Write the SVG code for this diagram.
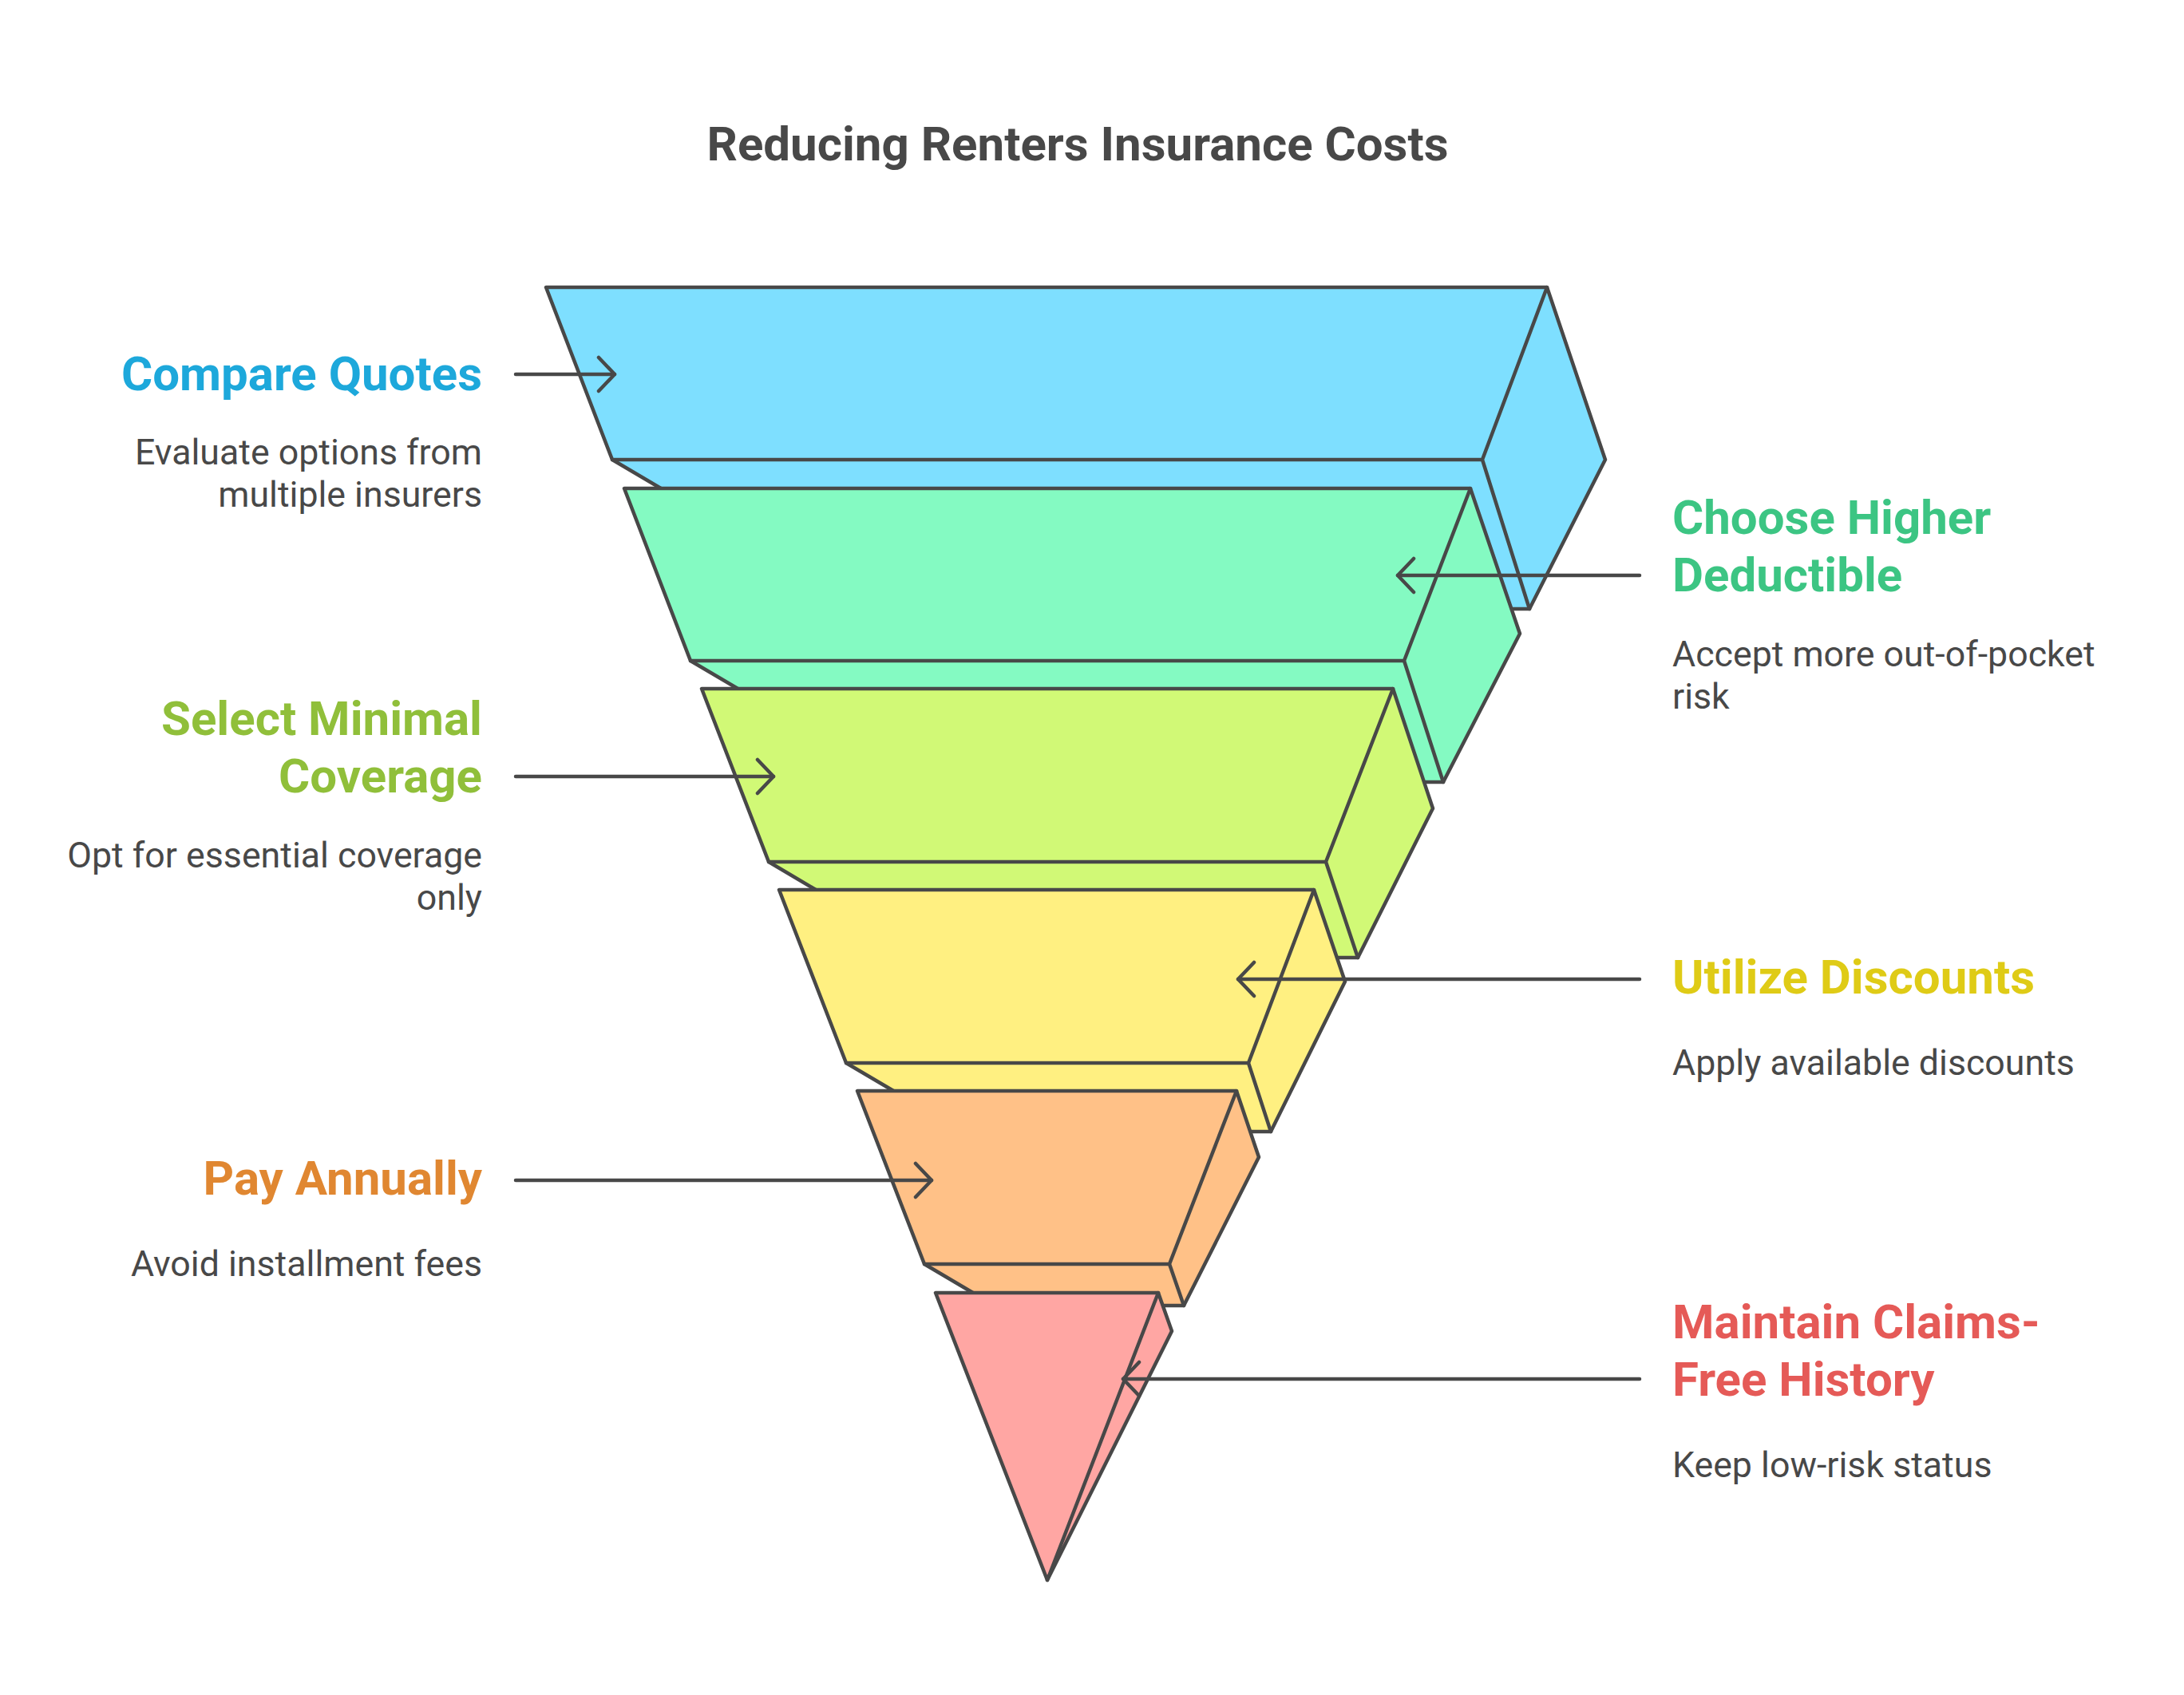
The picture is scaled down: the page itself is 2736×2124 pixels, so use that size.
<svg xmlns="http://www.w3.org/2000/svg" width="2736" height="2124" viewBox="0 0 2736 2124">
<defs>
<style>
.face{stroke:#484848;stroke-width:4.5;stroke-linejoin:round;stroke-linecap:round}
.edge{fill:none;stroke:#484848;stroke-width:4.5;stroke-linejoin:round;stroke-linecap:round}
.conn{fill:none;stroke:#484848;stroke-width:4.5;stroke-linecap:round}
.title{font-family:Roboto,"Liberation Sans",sans-serif;font-weight:700;font-size:60px;fill:#484848}
.head{font-family:Roboto,"Liberation Sans",sans-serif;font-weight:700;font-size:60px}
.desc{font-family:Roboto,"Liberation Sans",sans-serif;font-weight:400;font-size:44.7px;fill:#484848}
.l{text-anchor:end}
</style>
<marker id="arr" viewBox="-24 -24 28 48" refX="0" refY="0" markerWidth="28" markerHeight="48" markerUnits="userSpaceOnUse" orient="auto">
<path d="M-20,-21 L0,0 L-20,21" fill="none" stroke="#484848" stroke-width="4.5" stroke-linecap="round" stroke-linejoin="round"/>
</marker>
</defs>
<rect width="2736" height="2124" fill="#ffffff"/>
<text class="title" x="1350" y="201" text-anchor="middle">Reducing Renters Insurance Costs</text>

<g id="layer-compare-quotes">
<path class="face" fill="#7EDFFF" d="M684,360 L1938,360 L2011,576 L1916,763 L1084,763 L767,576 Z"/>
<path class="edge" d="M767,576 L1857,576 L1938,360 M1857,576 L1916,763"/>
</g>
<g id="layer-choose-higher-deductible">
<path class="face" fill="#84FAC2" d="M782,612 L1842,612 L1904,794 L1808,980 L1123,980 L865,828 Z"/>
<path class="edge" d="M865,828 L1759,828 L1842,612 M1759,828 L1808,980"/>
</g>
<g id="layer-select-minimal-coverage">
<path class="face" fill="#D1F976" d="M879,863 L1745,863 L1795,1013 L1701,1200 L1166,1200 L963,1080 Z"/>
<path class="edge" d="M963,1080 L1661,1080 L1745,863 M1661,1080 L1701,1200"/>
</g>
<g id="layer-utilize-discounts">
<path class="face" fill="#FFF081" d="M976,1115 L1646,1115 L1685,1230 L1592,1418 L1206,1418 L1060,1332 Z"/>
<path class="edge" d="M1060,1332 L1564,1332 L1646,1115 M1564,1332 L1592,1418"/>
</g>
<g id="layer-pay-annually">
<path class="face" fill="#FFC187" d="M1074,1367 L1549,1367 L1577,1450 L1483,1636 L1246,1636 L1158,1584 Z"/>
<path class="edge" d="M1158,1584 L1465,1584 L1549,1367 M1465,1584 L1483,1636"/>
</g>
<g id="layer-maintain-claims-free">
<path class="face" fill="#FFA6A3" d="M1172,1620 L1451,1620 L1468,1668 L1312,1980 Z"/>
<path class="edge" d="M1451,1620 L1312,1980"/>
</g>

<g id="connectors">
<path class="conn" marker-end="url(#arr)" d="M646,469 L770,469"/>
<path class="conn" marker-end="url(#arr)" d="M2054,721 L1751,721"/>
<path class="conn" marker-end="url(#arr)" d="M646,973 L969,973"/>
<path class="conn" marker-end="url(#arr)" d="M2054,1227 L1551,1227"/>
<path class="conn" marker-end="url(#arr)" d="M646,1479 L1167,1479"/>
<path class="conn" marker-end="url(#arr)" d="M2054,1728 L1407,1728"/>
</g>

<g id="label-compare-quotes">
<text class="head l" x="604" y="489" fill="#1DA8DB">Compare Quotes</text>
<text class="desc l" x="604" y="582">Evaluate options from</text>
<text class="desc l" x="604" y="635">multiple insurers</text>
</g>
<g id="label-choose-higher-deductible">
<text class="head" x="2095" y="669" fill="#3CC583">Choose Higher</text>
<text class="head" x="2095" y="741" fill="#3CC583">Deductible</text>
<text class="desc" x="2095" y="835">Accept more out-of-pocket</text>
<text class="desc" x="2095" y="888">risk</text>
</g>
<g id="label-select-minimal-coverage">
<text class="head l" x="604" y="921" fill="#90BF3A">Select Minimal</text>
<text class="head l" x="604" y="993" fill="#90BF3A">Coverage</text>
<text class="desc l" x="604" y="1087">Opt for essential coverage</text>
<text class="desc l" x="604" y="1140">only</text>
</g>
<g id="label-utilize-discounts">
<text class="head" x="2095" y="1245" fill="#DFCB16">Utilize Discounts</text>
<text class="desc" x="2095" y="1347">Apply available discounts</text>
</g>
<g id="label-pay-annually">
<text class="head l" x="604" y="1497" fill="#E08731">Pay Annually</text>
<text class="desc l" x="604" y="1599">Avoid installment fees</text>
</g>
<g id="label-maintain-claims-free">
<text class="head" x="2095" y="1677" fill="#E55A57">Maintain Claims-</text>
<text class="head" x="2095" y="1749" fill="#E55A57">Free History</text>
<text class="desc" x="2095" y="1851">Keep low-risk status</text>
</g>
</svg>
